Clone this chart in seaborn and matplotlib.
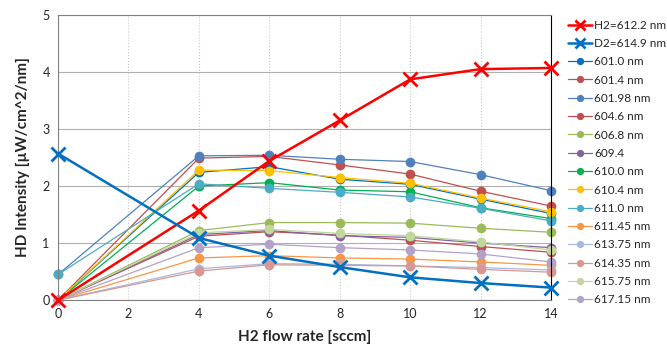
import numpy as np
import pandas as pd
import seaborn as sb
from matplotlib import pyplot as plt

flow = [0, 4, 6, 8, 10, 12, 14]

h2 = [0, 1.57, 2.44, 3.15, 3.87, 4.05, 4.07]
d2 = [2.57, 1.09, 0.78, 0.58, 0.40, 0.30, 0.22]

l601_0 = [0, 2.24, 2.34, 2.12, 2.03, 1.77, 1.52]
l601_4 = [0, 2.49, 2.52, 2.37, 2.21, 1.91, 1.65]
l601_98 = [0.45, 2.53, 2.54, 2.47, 2.43, 2.20, 1.92]
l604_6 = [0, 1.12, 1.20, 1.14, 1.05, 0.94, 0.84]
l606_8 = [0, 1.22, 1.36, 1.36, 1.35, 1.26, 1.19]
l609_4 = [0, 1.15, 1.22, 1.13, 1.10, 1.00, 0.92]
l610_0 = [0, 2.00, 2.06, 1.93, 1.90, 1.62, 1.43]
l610_4 = [0, 2.28, 2.27, 2.15, 2.05, 1.79, 1.55]
l611_0 = [0.45, 2.04, 1.96, 1.89, 1.81, 1.61, 1.39]
l611_45 = [0, 0.74, 0.78, 0.74, 0.72, 0.67, 0.61]
l613_75 = [0, 0.55, 0.64, 0.63, 0.60, 0.57, 0.53]
l614_35 = [0, 0.51, 0.62, 0.61, 0.60, 0.54, 0.49]
l615_75 = [0, 1.18, 1.24, 1.17, 1.13, 1.02, 0.88]
l617_15 = [0, 0.92, 0.98, 0.92, 0.88, 0.81, 0.67]

lines = [
    ('601.0 nm', l601_0, '#0070C0'),
    ('601.4 nm', l601_4, '#C0504D'),
    ('601.98 nm', l601_98, '#4F81BD'),
    ('604.6 nm', l604_6, '#C0504D'),
    ('606.8 nm', l606_8, '#9BBB59'),
    ('609.4', l609_4, '#8064A2'),
    ('610.0 nm', l610_0, '#00B050'),
    ('610.4 nm', l610_4, '#FFC000'),
    ('611.0 nm', l611_0, '#4BACC6'),
    ('611.45 nm', l611_45, '#F79646'),
    ('613.75 nm', l613_75, '#A9B8DC'),
    ('614.35 nm', l614_35, '#D99694'),
    ('615.75 nm', l615_75, '#C3D69B'),
    ('617.15 nm', l617_15, '#B3A2C7'),
]

sb.set_style('white')
plt.rcParams['font.family'] = ['Lato', 'DejaVu Sans']

fig, ax = plt.subplots(figsize=(6.67, 3.47), dpi=100)
fig.subplots_adjust(left=0.087, right=0.826, bottom=0.135, top=0.957)

sb.lineplot(x=flow, y=h2, ax=ax, color='#FF0000', lw=1.8, marker='x',
            markersize=10, markeredgewidth=2, markeredgecolor='#FF0000',
            label='H2=612.2 nm', zorder=5)
sb.lineplot(x=flow, y=d2, ax=ax, color='#0070C0', lw=1.8, marker='x',
            markersize=10, markeredgewidth=2, markeredgecolor='#0070C0',
            label='D2=614.9 nm', zorder=5)
for name, vals, col in lines:
    sb.lineplot(x=flow, y=vals, ax=ax, color=col, lw=0.9, marker='o',
                markersize=7, markeredgewidth=0, label=name)

ax.set_xlim(0, 14)
ax.set_ylim(0, 5)
ax.set_xticks(range(0, 15, 2))
ax.set_yticks(range(0, 6))
ax.tick_params(labelsize=9, length=0, pad=6)
ax.yaxis.grid(True, color='#B0B0B0', lw=0.8)
ax.xaxis.grid(True, color='#C8C8C8', lw=0.8, ls=':')
for s in ['left', 'bottom', 'top']:
    ax.spines[s].set_color('#808080')
ax.spines['right'].set_color('black')
ax.set_xlabel('H2 flow rate [sccm]', fontsize=11, fontweight='bold', labelpad=7)
ax.set_ylabel('HD Intensity [µW/cm^2/nm]', fontsize=11, fontweight='bold', labelpad=9)

for l in ax.lines:
    l.set_clip_on(False)

ax.legend(loc='upper left', bbox_to_anchor=(1.025, 1.0), frameon=False,
          fontsize=8.5, handlelength=2.0, handletextpad=0.2,
          labelspacing=0.62, borderaxespad=0, markerscale=0.75)

plt.savefig('out.png', dpi=100)
